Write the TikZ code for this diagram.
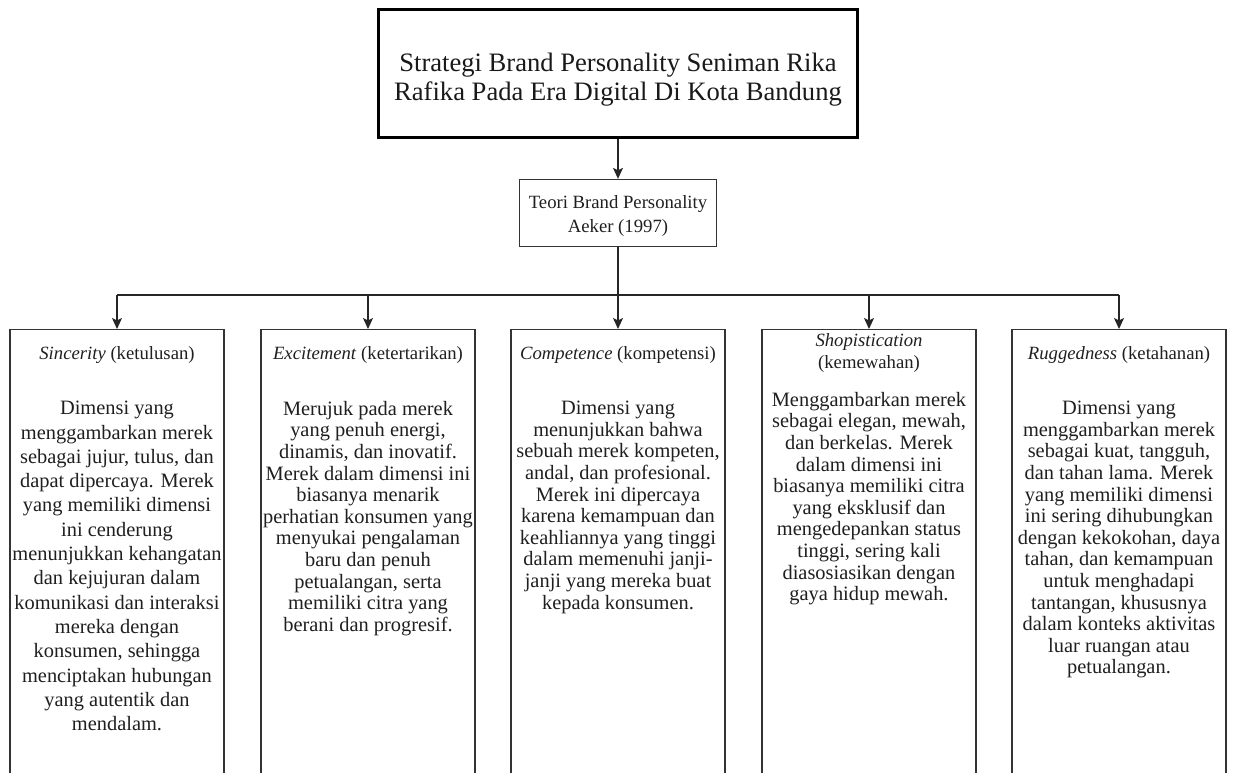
\documentclass[tikz,border=0pt]{standalone}
\usepackage{fontspec}
\setmainfont{Liberation Serif}
\usetikzlibrary{arrows.meta}
\tikzset{
  dimbox/.style={draw=black!80, line width=1.3pt, minimum width=214pt, minimum height=470pt, anchor=north, inner sep=0pt},
  bodytxt/.style={align=center, font=\fontsize{20.4}{21.6}\selectfont, inner sep=0pt, anchor=north, text=black!88},
  headtxt/.style={align=center, font=\fontsize{18.7}{21.5}\selectfont, inner sep=0pt, text=black!88},
  conn/.style={line width=1.2pt, draw=black!85},
  arr/.style={conn, -{Stealth[length=11pt,width=10pt,inset=2.5pt]}}
}
\begin{document}
\begin{tikzpicture}[x=1pt,y=-1pt]
\useasboundingbox (0,0) rectangle (1235,772);
% main title
\node[draw=black, line width=3.5pt, minimum width=479pt, minimum height=128pt, inner sep=0pt] (main) at (618,73.5) {};
\node[align=center, font=\fontsize{26.6}{28.5}\selectfont, text=black!90, inner sep=0pt] (maintxt) at (618,79.5)
  {Strategi Brand Personality Seniman Rika\\Rafika Pada Era Digital Di Kota Bandung};
% theory box
\node[draw=black!80, line width=1.3pt, minimum width=197pt, minimum height=67pt, inner sep=0pt] (teori) at (618,213) {};
\node[align=center, font=\fontsize{18.7}{24}\selectfont, text=black!88, inner sep=0pt] (teoritxt) at (618,215.5)
  {Teori Brand Personality\\Aeker (1997)};
% dimension boxes
\node[dimbox] (b1) at (117,329) {};
\node[dimbox] (b2) at (368,329) {};
\node[dimbox] (b3) at (618,329) {};
\node[dimbox] (b4) at (869,329) {};
\node[dimbox] (b5) at (1119,329) {};
% connectors
\coordinate (bus) at (618,295);
\draw[arr] (main.south) -- (teori.north);
\draw[arr] (teori.south) -- (b3.north);
\draw[conn] (b1.north |- bus) -- (b5.north |- bus);
\draw[arr] (b1.north |- bus) -- (b1.north);
\draw[arr] (b2.north |- bus) -- (b2.north);
\draw[arr] (b4.north |- bus) -- (b4.north);
\draw[arr] (b5.north |- bus) -- (b5.north);
% headings
\node[headtxt] (h1) at (117,355) {\textit{Sincerity} (ketulusan)};
\node[headtxt] (h2) at (368,355) {\textit{Excitement} (ketertarikan)};
\node[headtxt] (h3) at (618,355) {\textit{Competence} (kompetensi)};
\node[headtxt] (h4) at (869,353) {\textit{Shopistication}\\(kemewahan)};
\node[headtxt] (h5) at (1119,355) {\textit{Ruggedness} (ketahanan)};
% bodies
\node[bodytxt, font=\fontsize{20.4}{24.3}\selectfont] (t1) at (117,401) {Dimensi yang\\menggambarkan merek\\sebagai jujur, tulus, dan\\dapat dipercaya. Merek\\yang memiliki dimensi\\ini cenderung\\menunjukkan kehangatan\\dan kejujuran dalam\\komunikasi dan interaksi\\mereka dengan\\konsumen, sehingga\\menciptakan hubungan\\yang autentik dan\\mendalam.};
\node[bodytxt] (t2) at (368,401) {Merujuk pada merek\\yang penuh energi,\\dinamis, dan inovatif.\\Merek dalam dimensi ini\\biasanya menarik\\perhatian konsumen yang\\menyukai pengalaman\\baru dan penuh\\petualangan, serta\\memiliki citra yang\\berani dan progresif.};
\node[bodytxt] (t3) at (618,401) {Dimensi yang\\menunjukkan bahwa\\sebuah merek kompeten,\\andal, dan profesional.\\Merek ini dipercaya\\karena kemampuan dan\\keahliannya yang tinggi\\dalam memenuhi janji-\\janji yang mereka buat\\kepada konsumen.};
\node[bodytxt] (t4) at (869,392) {Menggambarkan merek\\sebagai elegan, mewah,\\dan berkelas. Merek\\dalam dimensi ini\\biasanya memiliki citra\\yang eksklusif dan\\mengedepankan status\\tinggi, sering kali\\diasosiasikan dengan\\gaya hidup mewah.};
\node[bodytxt] (t5) at (1119,401) {Dimensi yang\\menggambarkan merek\\sebagai kuat, tangguh,\\dan tahan lama. Merek\\yang memiliki dimensi\\ini sering dihubungkan\\dengan kekokohan, daya\\tahan, dan kemampuan\\untuk menghadapi\\tantangan, khususnya\\dalam konteks aktivitas\\luar ruangan atau\\petualangan.};
\end{tikzpicture}
\end{document}
